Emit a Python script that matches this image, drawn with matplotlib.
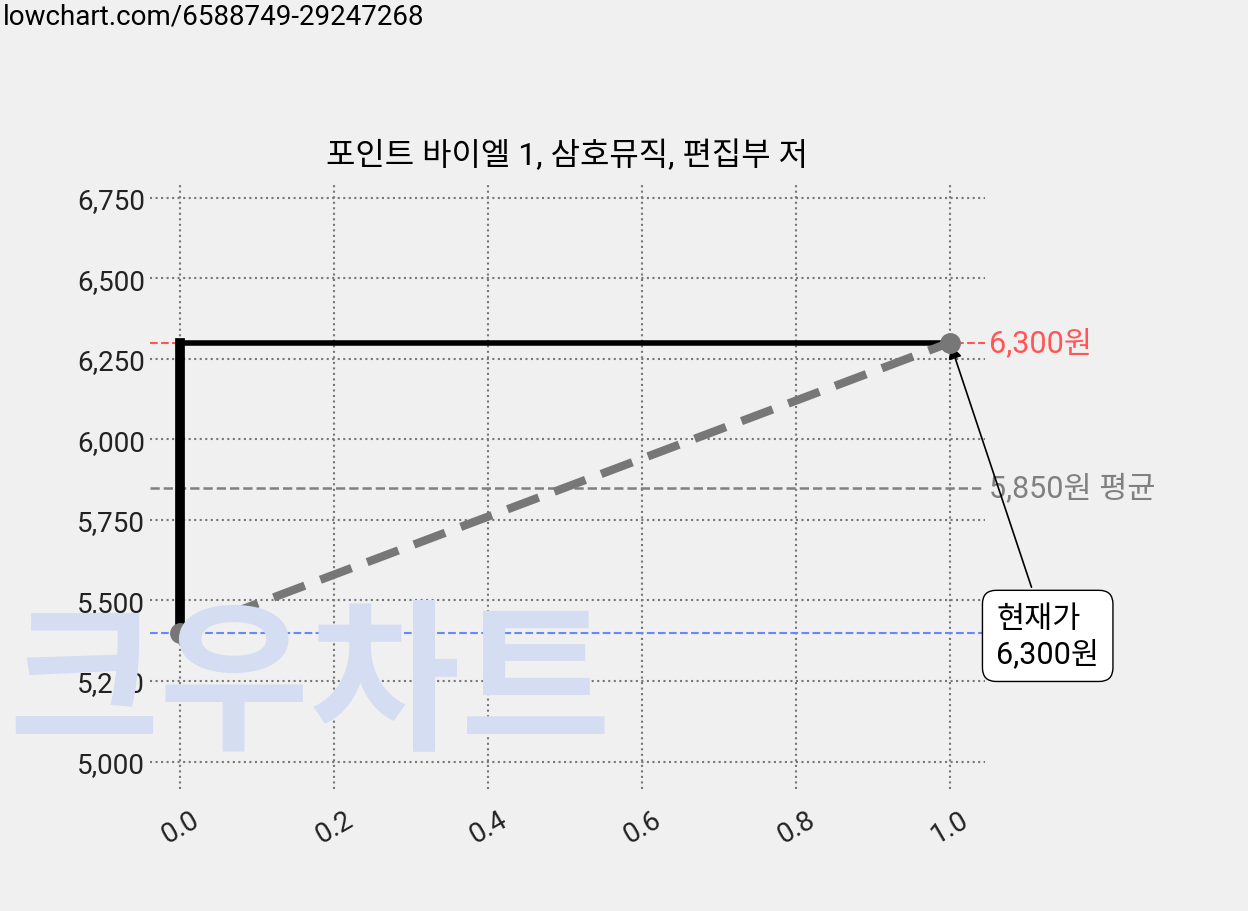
import matplotlib
matplotlib.use("Agg")
import matplotlib.pyplot as plt

plt.rcParams['font.family'] = ['Roboto', 'Noto Sans CJK KR', 'DejaVu Sans']

x_vals = [0.0, 1.0]
prices = [5400, 6300]
avg_price = 5850
cur_price = 6300
min_price = 5400
title = "포인트 바이엘 1, 삼호뮤직, 편집부 저"
yticks = [5000, 5250, 5500, 5750, 6000, 6250, 6500, 6750]
xticks = [0.0, 0.2, 0.4, 0.6, 0.8, 1.0]

fig = plt.figure(figsize=(12.48, 9.12), dpi=100, facecolor='#f0f0f0')
ax = fig.add_axes([150/1248, 1-790/912, (985-150)/1248, (790-185)/912])
ax.set_facecolor('#f0f0f0')
for s in ax.spines.values():
    s.set_visible(False)

ax.set_xlim(-30/770, 1+35/770)
ax.set_ylim(4915, 6792)

ax.grid(True, linestyle=':', color='#777777', linewidth=1.5)
ax.set_axisbelow(True)

fig.text(310/1248, 1-688/912, "크우차트", fontsize=118, color='#d5ddf2',
         ha='center', va='center', fontweight='bold', zorder=0,
         family=['Noto Sans CJK KR'])

ax.axhline(cur_price, color='#ff5555', linestyle='--', linewidth=1.5)
ax.axhline(min_price, color='#6688ff', linestyle='--', linewidth=1.5)
ax.axhline(avg_price, color='#808080', linestyle='--', linewidth=1.8)

ax.plot([x_vals[0], x_vals[0]], [prices[0], prices[1]], color='black', linewidth=7, zorder=3)
ax.plot([x_vals[0], x_vals[1]], [prices[1], prices[1]], color='black', linewidth=4, zorder=3)
ax.plot(x_vals, prices, color='#777777', linestyle='--', linewidth=6,
        dashes=(4, 2), marker='o', markersize=14, zorder=4)

ax.text(1.05, cur_price, "6,300원", color='#ff5555', fontsize=22, va='center', clip_on=False)
ax.text(1.05, avg_price, "5,850원 평균", color='#808080', fontsize=22, va='center', clip_on=False)

ax.annotate("현재가\n6,300원", xy=(1.0, cur_price), xytext=(1.06, 5390),
            fontsize=22, va='center', ha='left', linespacing=1.2,
            bbox=dict(boxstyle='round,pad=0.45', fc='white', ec='black'),
            arrowprops=dict(arrowstyle='-|>', color='black', lw=1.2,
                            mutation_scale=20), annotation_clip=False)

ax.set_yticks(yticks)
ax.set_yticklabels([f"{v:,}" for v in yticks])
ax.set_xticks(xticks)
ax.set_xticklabels([f"{v:.1f}" for v in xticks], rotation=30)
ax.tick_params(axis='both', labelsize=20, length=0, colors='#222222')
ax.tick_params(axis='x', pad=12)

ax.set_title(title, fontsize=23, pad=14)

fig.text(3/1248, 1-17/912, "lowchart.com/6588749-29247268", fontsize=20, va='center')

fig.savefig("out.png", dpi=100, facecolor=fig.get_facecolor())
